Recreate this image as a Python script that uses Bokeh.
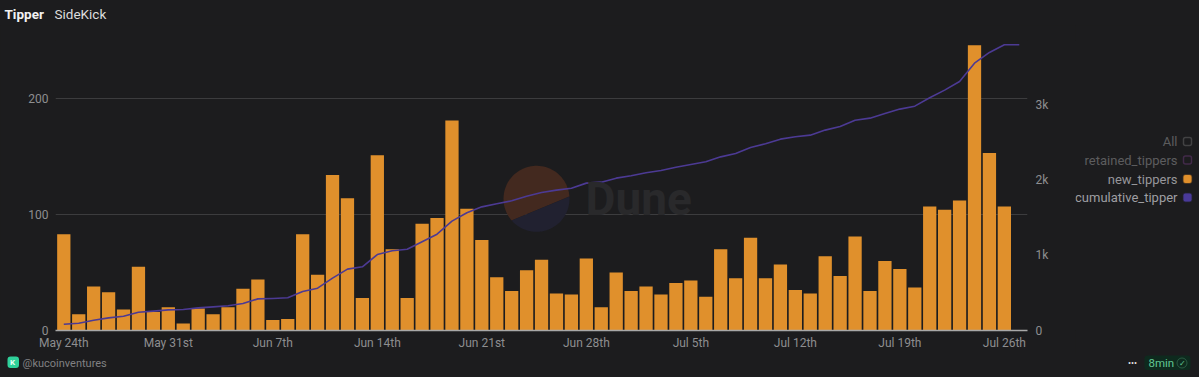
from bokeh.plotting import figure
from bokeh.embed import file_html
from bokeh.resources import INLINE
from bokeh.layouts import column, row
from bokeh.models import Range1d, LinearAxis, FixedTicker, Label, BoxAnnotation
from bokeh.core.validation import silence
from bokeh.core.validation.warnings import MISSING_RENDERERS
import numpy as np

silence(MISSING_RENDERERS, True)

tick_days = [0, 7, 14, 21, 28, 35, 42, 49, 56, 63]
tick_labels = ["May 24th", "May 31st", "Jun 7th", "Jun 14th", "Jun 21st", "Jun 28th",
               "Jul 5th", "Jul 12th", "Jul 19th", "Jul 26th"]
new_tippers = [83, 14, 38, 33, 18, 55, 16, 20, 6, 19, 14, 20, 36, 44, 9, 10,
               83, 48, 134, 114, 28, 151, 70, 28, 92, 97, 181, 105, 78, 46, 34, 52,
               61, 32, 31, 62, 20, 50, 34, 38, 31, 41, 43, 29, 70, 45, 80, 45,
               57, 35, 32, 64, 47, 81, 34, 60, 53, 37, 107, 104, 112, 246, 153, 107]
cumulative_tipper = [84, 97, 137, 168, 190, 243, 257, 274, 279, 301, 314, 328, 358, 420, 425, 434,
                     518, 562, 695, 815, 846, 1009, 1058, 1080, 1178, 1279, 1452, 1563, 1642, 1682, 1722, 1784,
                     1833, 1864, 1890, 1957, 1970, 2023, 2054, 2094, 2125, 2169, 2205, 2240, 2306, 2351, 2430, 2479,
                     2541, 2572, 2594, 2661, 2709, 2793, 2820, 2882, 2940, 2979, 3090, 3192, 3307, 3550, 3692, 3794, 3794]
left_ticks = [0, 100, 200]
right_ticks = [0, 1000, 2000, 3000]
right_labels = ["0", "1k", "2k", "3k"]
legend_names = ["All", "retained_tippers", "new_tippers", "cumulative_tipper"]

BG = "#1c1c1e"
ORANGE = "#e0902c"
PURPLE = "#4c3a94"
FONT = "Roboto"
AXIS_FONT_SIZE = "12px"

W, H = 1199, 377
HEAD_H, FOOT_H = 25, 23
CHART_W, CHART_H = 1075, H - HEAD_H - FOOT_H
L, R, T, B = 55, 1027, 40, 330
X0, X1 = -0.556, 64.55


def panel(w, h):
    f = figure(width=w, height=h, output_backend="svg", toolbar_location=None,
               x_range=Range1d(0, 1), y_range=Range1d(0, 1), x_axis_type=None, y_axis_type=None,
               min_border=0, background_fill_color=BG, border_fill_color=BG, outline_line_color=None)
    f.grid.visible = False
    return f


def text(f, x, y, s, size, color, align="left", style="normal"):
    f.add_layout(Label(x=x, y=y, x_units="canvas", y_units="canvas", text=s,
                       text_font=FONT, text_font_size=f"{size}px", text_color=color,
                       text_align=align, text_baseline="middle", text_font_style=style,
                       level="overlay"))


def box(f, x0, x1, y0, y1, fill, line=None, radius=2, alpha=1.0, lw=1.5):
    f.add_layout(BoxAnnotation(left=x0, right=x1, top=y0, bottom=y1,
                               left_units="canvas", right_units="canvas",
                               top_units="canvas", bottom_units="canvas",
                               fill_color=fill, fill_alpha=alpha, line_color=line, line_width=lw,
                               border_radius=radius, level="overlay"))


p = figure(width=CHART_W, height=CHART_H, output_backend="svg", toolbar_location=None,
           x_range=Range1d(X0, X1), y_range=Range1d(0, 250),
           min_border_left=L, min_border_right=CHART_W - R, min_border_top=T - HEAD_H,
           min_border_bottom=CHART_H + HEAD_H - B, background_fill_color=BG, border_fill_color=BG,
           outline_line_color=None)
p.extra_y_ranges = {"cum": Range1d(0, 3851)}

p.xaxis.ticker = FixedTicker(ticks=tick_days)
p.xaxis.major_label_overrides = dict(zip(tick_days, tick_labels))
p.xaxis.axis_line_color = "#a8a8a8"
p.xaxis.axis_line_width = 1.5
p.xaxis.major_tick_line_color = None
p.xaxis.minor_tick_line_color = None
p.xaxis.major_tick_out = 0
p.xaxis.major_label_standoff = 5
p.yaxis.ticker = FixedTicker(ticks=left_ticks)
p.yaxis.axis_line_color = None
p.yaxis.major_tick_line_color = None
p.yaxis.minor_tick_line_color = None
p.yaxis.major_tick_out = 0
p.yaxis.major_label_standoff = 7

right = LinearAxis(y_range_name="cum", ticker=FixedTicker(ticks=right_ticks),
                   major_label_overrides=dict(zip(right_ticks, right_labels)),
                   axis_line_color=None, major_tick_line_color=None, minor_tick_line_color=None,
                   major_tick_out=0, major_label_standoff=8)
p.add_layout(right, "right")
for ax in [p.xaxis[0], p.yaxis[0], right]:
    ax.major_label_text_color = "#8e8e90"
    ax.major_label_text_font = FONT
    ax.major_label_text_font_size = AXIS_FONT_SIZE

p.xgrid.grid_line_color = None
p.ygrid.ticker = FixedTicker(ticks=[100, 200])
p.ygrid.grid_line_color = "#3c3c3e"


def px_x(x):
    return (x - L) / (R - L) * (X1 - X0) + X0


def px_y(y):
    return (B - y) / 1.16


# watermark: circle split by a slanted chord
def segment(a0, a1):
    a = np.radians(np.linspace(a0, a1, 60))
    return px_x(536 + 33 * np.cos(a)), px_y(198.3 - 33 * np.sin(a))


xs, ys = segment(4, 221)
p.patch(xs, ys, fill_color="#43291f", line_color=None)
xs, ys = segment(221, 364)
p.patch(xs, ys, fill_color="#212130", line_color=None)
text(p, 585, 198 - HEAD_H, "Dune", 46, "#29292b", style="bold")

p.vbar(x=list(range(len(new_tippers))), top=new_tippers, width=0.89, bottom=0,
       fill_color=ORANGE, line_color=None)
p.line(x=list(range(len(cumulative_tipper))), y=cumulative_tipper, y_range_name="cum",
       line_color=PURPLE, line_width=1.6, line_join="round")

head = panel(W, HEAD_H)
text(head, 4, 13.5, "Tipper", 13.5, "#f2f2f2", style="bold")
text(head, 54, 13.5, "SideKick", 13.5, "#dddddd")

leg = panel(W - CHART_W, CHART_H)
legend_y = [141, 159.5, 178.5, 197]
legend_col = ["#5c5c5e", "#5c5c5e", "#96969a", "#9e9ea2"]
legend_fill = [BG, BG, ORANGE, "#4a3a9a"]
legend_line = ["#9a9a9c", "#9a4db0", ORANGE, "#4a3a9a"]
for name, y, c, f, l in zip(legend_names, legend_y, legend_col, legend_fill, legend_line):
    text(leg, 1177 - CHART_W, y - HEAD_H, name, 13, c, align="right")
    box(leg, 1183 - CHART_W, 1191 - CHART_W, y - 4 - HEAD_H, y + 4 - HEAD_H, f, l)

foot = panel(W, FOOT_H)
oy = H - FOOT_H
box(foot, 7, 18.5, 356 - oy, 367.5 - oy, "#2fd09a", radius=3)
text(foot, 9.5, 362 - oy, "K", 8, "#eafff6", style="bold")
text(foot, 22, 362.5 - oy, "@kucoinventures", 11, "#808082")
text(foot, 1132, 362 - oy, "\u2022\u2022\u2022", 9, "#e6e6e6", align="center")
box(foot, 1144, 1190, 355 - oy, 369.5 - oy, "#0e2a1e", radius=3)
text(foot, 1148, 362.5 - oy, "8min", 11.5, "#62c893")
box(foot, 1176.5, 1186.5, 357.5 - oy, 367.5 - oy, BG, "#62c893", radius=5, alpha=0, lw=1)
text(foot, 1181.5, 362.5 - oy, "\u2713", 8, "#62c893", align="center")

page = column(head, row(p, leg), foot)
html = file_html(page, INLINE)
html = html.replace("<head>", f"<head><style>html,body{{margin:0;padding:0;background:{BG};overflow:hidden}}</style>", 1)
open("out.html", "w").write(html)
